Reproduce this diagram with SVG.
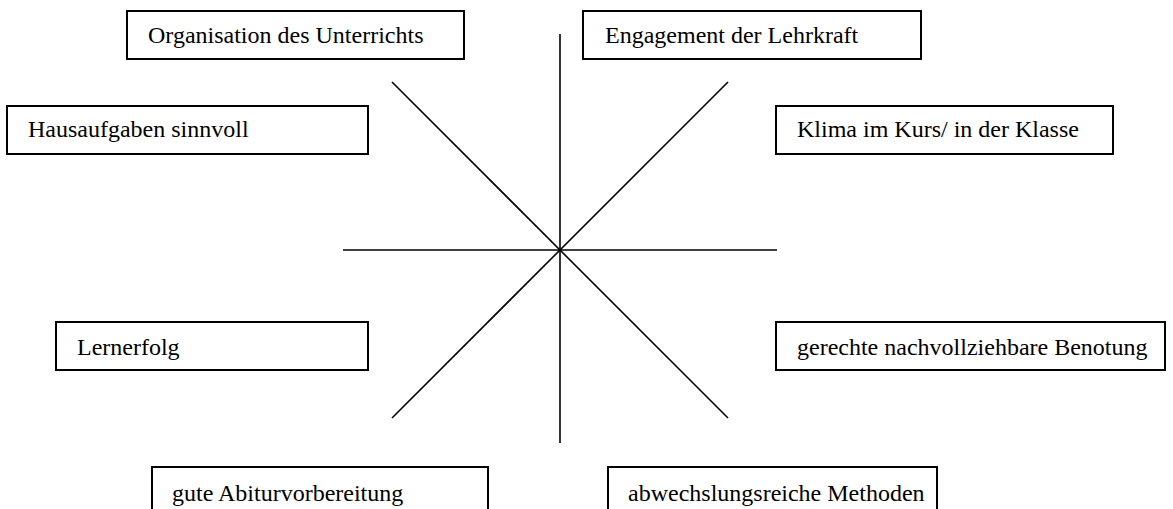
<svg xmlns="http://www.w3.org/2000/svg" width="1173" height="509" viewBox="0 0 1173 509">
<style>
.box{fill:#fff;stroke:#000;stroke-width:2}
.lbl{font-family:"Liberation Serif","Times New Roman",serif;font-size:24px;fill:#000}
.ln{stroke:#000;stroke-width:1.6;fill:none}
</style>
<rect width="1173" height="509" fill="#fff"/>
<g id="connectors">
<line class="ln" x1="560" y1="34" x2="560" y2="443"/>
<line class="ln" x1="343" y1="250" x2="777" y2="250"/>
<line class="ln" x1="392" y1="82" x2="728" y2="418"/>
<line class="ln" x1="728" y1="82" x2="392" y2="418"/>
</g>
<g id="organisation">
<rect class="box" x="127" y="11" width="337" height="48"/>
<text class="lbl" x="148" y="43">Organisation des Unterrichts</text>
</g>
<g id="engagement">
<rect class="box" x="583" y="11" width="338" height="48"/>
<text class="lbl" x="605" y="43">Engagement der Lehrkraft</text>
</g>
<g id="hausaufgaben">
<rect class="box" x="7" y="106" width="361" height="48"/>
<text class="lbl" x="28" y="137">Hausaufgaben sinnvoll</text>
</g>
<g id="klima">
<rect class="box" x="776" y="106" width="337" height="48"/>
<text class="lbl" x="797" y="137">Klima im Kurs/ in der Klasse</text>
</g>
<g id="lernerfolg">
<rect class="box" x="56" y="322" width="312" height="48"/>
<text class="lbl" x="77" y="355">Lernerfolg</text>
</g>
<g id="benotung">
<rect class="box" x="776" y="322" width="389" height="48"/>
<text class="lbl" x="797" y="355">gerechte nachvollziehbare Benotung</text>
</g>
<g id="abitur">
<rect class="box" x="152" y="467" width="336" height="60"/>
<text class="lbl" x="172" y="501">gute Abiturvorbereitung</text>
</g>
<g id="methoden">
<rect class="box" x="608" y="467" width="329" height="60"/>
<text class="lbl" x="628" y="501">abwechslungsreiche Methoden</text>
</g>
</svg>
